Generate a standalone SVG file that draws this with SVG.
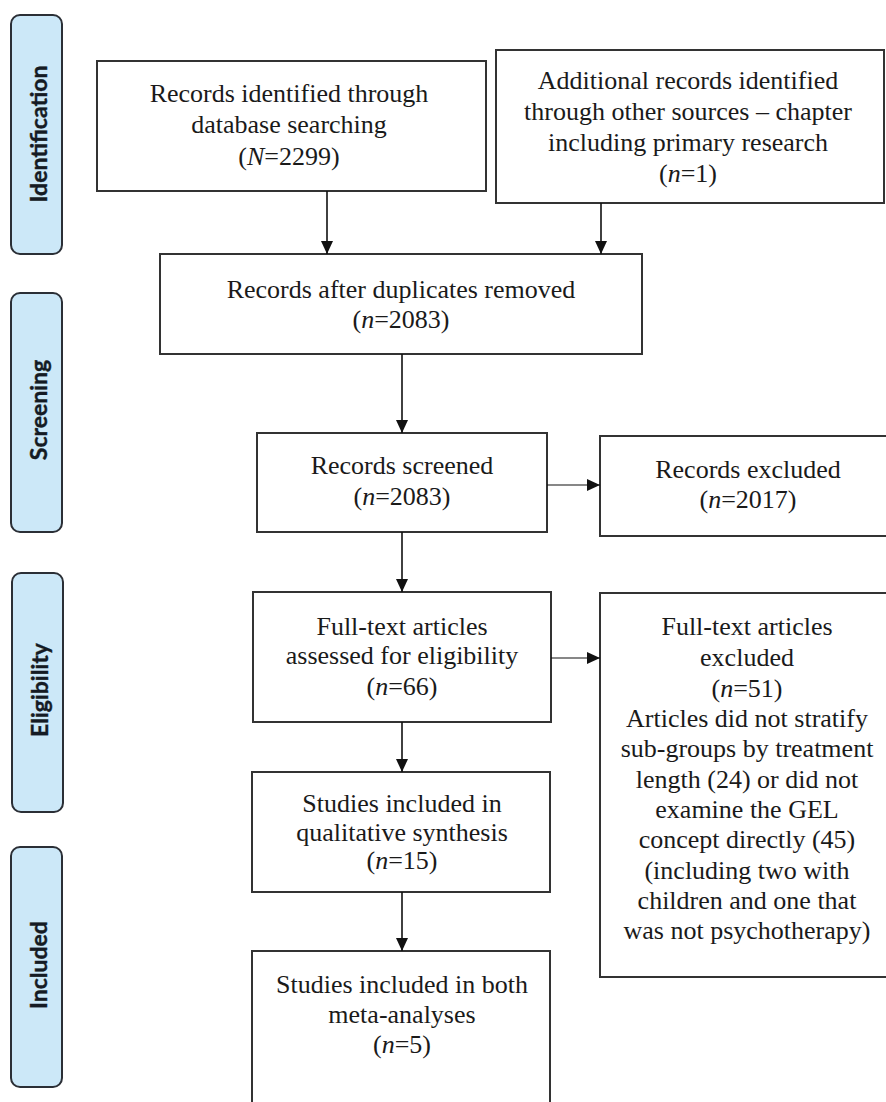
<svg xmlns="http://www.w3.org/2000/svg" width="886" height="1102" viewBox="0 0 886 1102">
<defs>
<style>
.phase rect{fill:#cce8f8;stroke:#2b2f36;stroke-width:2}
.phase text{font-family:Lato,"Open Sans",sans-serif;font-weight:bold;font-size:23px;fill:#151b24;stroke:#151b24;stroke-width:0.4;text-anchor:middle;dominant-baseline:central}
.box rect{fill:#fff;stroke:#333;stroke-width:2}
.box text{font-family:"Liberation Serif","Times New Roman",serif;font-size:26px;fill:#1a1a1a;text-anchor:middle}
.i{font-style:italic}
.conn line{stroke:#111;stroke-width:1.6}
.conn line.h{stroke-width:1.1}
</style>
<marker id="ah" markerUnits="userSpaceOnUse" markerWidth="13" markerHeight="12" viewBox="0 0 13 12" refX="13" refY="6" orient="auto">
<path d="M0,0 L13,6 L0,12 z" fill="#111"/>
</marker>
</defs>
<rect width="886" height="1102" fill="#fff"/>

<g id="phase-identification" class="phase">
<rect x="11" y="15" width="51" height="239" rx="9"/>
<text transform="rotate(-90 38 134)" x="38" y="134">Identification</text>
</g>
<g id="phase-screening" class="phase">
<rect x="11" y="293" width="51" height="239" rx="9"/>
<text transform="rotate(-90 38 410)" x="38" y="410">Screening</text>
</g>
<g id="phase-eligibility" class="phase">
<rect x="12" y="573" width="51" height="239" rx="9"/>
<text transform="rotate(-90 39 690)" x="39" y="690">Eligibility</text>
</g>
<g id="phase-included" class="phase">
<rect x="11" y="847" width="51" height="240" rx="9"/>
<text transform="rotate(-90 38 965)" x="38" y="965">Included</text>
</g>

<g id="node-db-records" class="box">
<rect x="97" y="61" width="389" height="130"/>
<text x="289" y="102">Records identified through</text>
<text x="289" y="133">database searching</text>
<text x="289" y="165">(<tspan class="i">N</tspan>=2299)</text>
</g>
<g id="node-other-records" class="box">
<rect x="496" y="50" width="388" height="153"/>
<text x="688" y="89">Additional records identified</text>
<text x="688" y="120">through other sources – chapter</text>
<text x="688" y="151">including primary research</text>
<text x="688" y="182">(<tspan class="i">n</tspan>=1)</text>
</g>
<g id="node-dedup" class="box">
<rect x="160" y="254" width="482" height="100"/>
<text x="401" y="298">Records after duplicates removed</text>
<text x="401" y="328">(<tspan class="i">n</tspan>=2083)</text>
</g>
<g id="node-screened" class="box">
<rect x="257" y="433" width="290" height="99"/>
<text x="402" y="474">Records screened</text>
<text x="402" y="505">(<tspan class="i">n</tspan>=2083)</text>
</g>
<g id="node-excluded" class="box">
<rect x="600" y="436" width="292" height="100"/>
<text x="748" y="478">Records excluded</text>
<text x="748" y="508">(<tspan class="i">n</tspan>=2017)</text>
</g>
<g id="node-fulltext" class="box">
<rect x="253" y="592" width="298" height="130"/>
<text x="402" y="635">Full-text articles</text>
<text x="402" y="664">assessed for eligibility</text>
<text x="402" y="695">(<tspan class="i">n</tspan>=66)</text>
</g>
<g id="node-fulltext-excluded" class="box">
<rect x="600" y="593" width="292" height="384"/>
<text x="747" y="635">Full-text articles</text>
<text x="747" y="666">excluded</text>
<text x="747" y="697">(<tspan class="i">n</tspan>=51)</text>
<text x="747" y="727">Articles did not stratify</text>
<text x="747" y="757">sub-groups by treatment</text>
<text x="747" y="788">length (24) or did not</text>
<text x="747" y="818">examine the GEL</text>
<text x="747" y="848">concept directly (45)</text>
<text x="747" y="879">(including two with</text>
<text x="747" y="909">children and one that</text>
<text x="747" y="939">was not psychotherapy)</text>
</g>
<g id="node-qualitative" class="box">
<rect x="252" y="772" width="298" height="120"/>
<text x="402" y="812">Studies included in</text>
<text x="402" y="841">qualitative synthesis</text>
<text x="402" y="869">(<tspan class="i">n</tspan>=15)</text>
</g>
<g id="node-meta" class="box">
<rect x="252" y="951" width="298" height="200"/>
<text x="402" y="993">Studies included in both</text>
<text x="402" y="1023">meta-analyses</text>
<text x="402" y="1053">(<tspan class="i">n</tspan>=5)</text>
</g>

<g id="connectors" class="conn">
<line x1="327" y1="191" x2="327" y2="254" marker-end="url(#ah)"/>
<line x1="601" y1="203" x2="601" y2="254" marker-end="url(#ah)"/>
<line x1="402" y1="354" x2="402" y2="433" marker-end="url(#ah)"/>
<line class="h" x1="547" y1="485" x2="600" y2="485" marker-end="url(#ah)"/>
<line x1="402" y1="532" x2="402" y2="592" marker-end="url(#ah)"/>
<line class="h" x1="551" y1="658" x2="600" y2="658" marker-end="url(#ah)"/>
<line x1="402" y1="722" x2="402" y2="772" marker-end="url(#ah)"/>
<line x1="402" y1="892" x2="402" y2="951" marker-end="url(#ah)"/>
</g>
</svg>
